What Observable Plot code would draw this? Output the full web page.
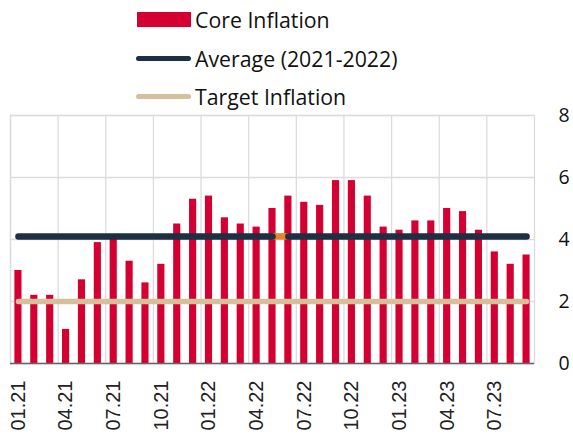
<!DOCTYPE html>
<html>
<head>
<meta charset="utf-8">
<script src="https://cdn.jsdelivr.net/npm/d3@7"></script>
<script src="https://cdn.jsdelivr.net/npm/@observablehq/plot@0.6"></script>
<style>
  html, body { margin: 0; padding: 0; background: #fff; }
  #wrap { width: 573px; height: 436px; position: relative; overflow: hidden; }
  #legend { position: relative; width: 573px; height: 108px; font-family: "Open Sans", sans-serif; font-size: 21.3px; color: #111; }
  .row { position: absolute; left: 136px; height: 30px; display: flex; align-items: center; }
  .sw { display: inline-block; margin-right: 4px; }
  .swbar { width: 54px; height: 15px; }
  .swline { width: 55px; height: 5px; border-radius: 3px; }
  #chart svg g[aria-label="x-axis tick label"] text { font-family: "Liberation Sans", Arial, sans-serif; font-size: 20px; fill: #222; }
  #chart svg g[aria-label="y-axis tick label"] text { font-family: "Open Sans", sans-serif; font-size: 19.5px; fill: #111; }
</style>
</head>
<body>
<div id="wrap">
  <div id="legend"></div>
  <div id="chart"></div>
</div>
<script>
// ---- data ----
const months = ["01.21","02.21","03.21","04.21","05.21","06.21","07.21","08.21","09.21","10.21","11.21","12.21",
                "01.22","02.22","03.22","04.22","05.22","06.22","07.22","08.22","09.22","10.22","11.22","12.22",
                "01.23","02.23","03.23","04.23","05.23","06.23","07.23","08.23","09.23"];
const coreInflation = [3.0,2.2,2.2,1.1,2.7,3.9,4.1,3.3,2.6,3.2,4.5,5.3,
                       5.4,4.7,4.5,4.4,5.0,5.4,5.2,5.1,5.9,5.9,5.4,4.4,
                       4.3,4.6,4.6,5.0,4.9,4.3,3.6,3.2,3.5];
const averageValue = 4.1;          // Average (2021-2022)
const targetValue = 2.0;           // Target Inflation
const highlightSegment = ["05.22","06.22"];
const tickLabels = ["01.21","04.21","07.21","10.21","01.22","04.22","07.22","10.22","01.23","04.23","07.23"];
const yTicks = [0,2,4,6,8];
const seriesNames = ["Core Inflation","Average (2021-2022)","Target Inflation"];

// ---- colors ----
const cRed = "#d50032", cNavy = "#1e2f44", cTan = "#d6c09c", cOrange = "#e8822c";

// ---- legend ----
const legend = document.getElementById("legend");
const rows = [
  {name: seriesNames[0], kind: "bar", color: cRed, y: 4},
  {name: seriesNames[1], kind: "line", color: cNavy, y: 43},
  {name: seriesNames[2], kind: "line", color: cTan, y: 81}
];
for (const r of rows) {
  const d = document.createElement("div");
  d.className = "row";
  d.style.top = r.y + "px";
  const s = document.createElement("span");
  s.className = "sw " + (r.kind === "bar" ? "swbar" : "swline");
  s.style.background = r.color;
  if (r.kind === "bar") s.style.marginLeft = "1px";
  d.appendChild(s);
  const t = document.createElement("span");
  t.textContent = r.name;
  d.appendChild(t);
  legend.appendChild(d);
}

// ---- chart ----
const data = months.map((m, i) => ({month: m, value: coreInflation[i], avg: averageValue, target: targetValue}));
const W = 573, H = 328, mL = 10, mR = 39, mT = 7, mB = 73;
const step = (W - mL - mR) / months.length;
const i0 = months.indexOf(highlightSegment[0]), i1 = months.indexOf(highlightSegment[1]);
const avgA = data.slice(0, i0 + 1), avgB = data.slice(i1), avgH = data.slice(i0, i1 + 1);

const chart = Plot.plot({
  width: W, height: H,
  marginLeft: mL, marginRight: mR, marginTop: mT, marginBottom: mB,
  style: {fontFamily: "Open Sans, sans-serif", fontSize: "19px", overflow: "visible", background: "#fff"},
  x: {type: "band", domain: months, paddingInner: 0.55, paddingOuter: 0.275, round: false, label: null},
  y: {domain: [0, 8], label: null},
  marks: [
    Plot.ruleY(yTicks, {stroke: "#dcdcdc", strokeWidth: 1.3}),
    Plot.ruleX(tickLabels, {x: d => d, dx: -step / 2, stroke: "#dcdcdc", strokeWidth: 1.3}),
    Plot.frame({stroke: "#dcdcdc", strokeWidth: 1.3}),
    Plot.barY(data, {x: "month", y: "value", fill: cRed}),
    Plot.ruleY([0], {stroke: "#666", strokeWidth: 1.5}),
    Plot.line(data, {x: "month", y: "target", stroke: cTan, strokeWidth: 5.5, strokeLinecap: "round"}),
    Plot.line(avgH, {x: "month", y: "avg", stroke: cOrange, strokeWidth: 6.5, strokeLinecap: "butt"}),
    Plot.line(avgA, {x: "month", y: "avg", stroke: cNavy, strokeWidth: 6.5, strokeLinecap: "round"}),
    Plot.line(avgB, {x: "month", y: "avg", stroke: cNavy, strokeWidth: 6.5, strokeLinecap: "round"}),
    Plot.axisX({ticks: tickLabels, tickSize: 0, tickPadding: 17, tickRotate: -90, label: null}),
    Plot.axisY({ticks: yTicks, anchor: "right", tickSize: 0, tickPadding: 24, textAnchor: "start", label: null})
  ]
});
document.getElementById("chart").appendChild(chart);
</script>
</body>
</html>
